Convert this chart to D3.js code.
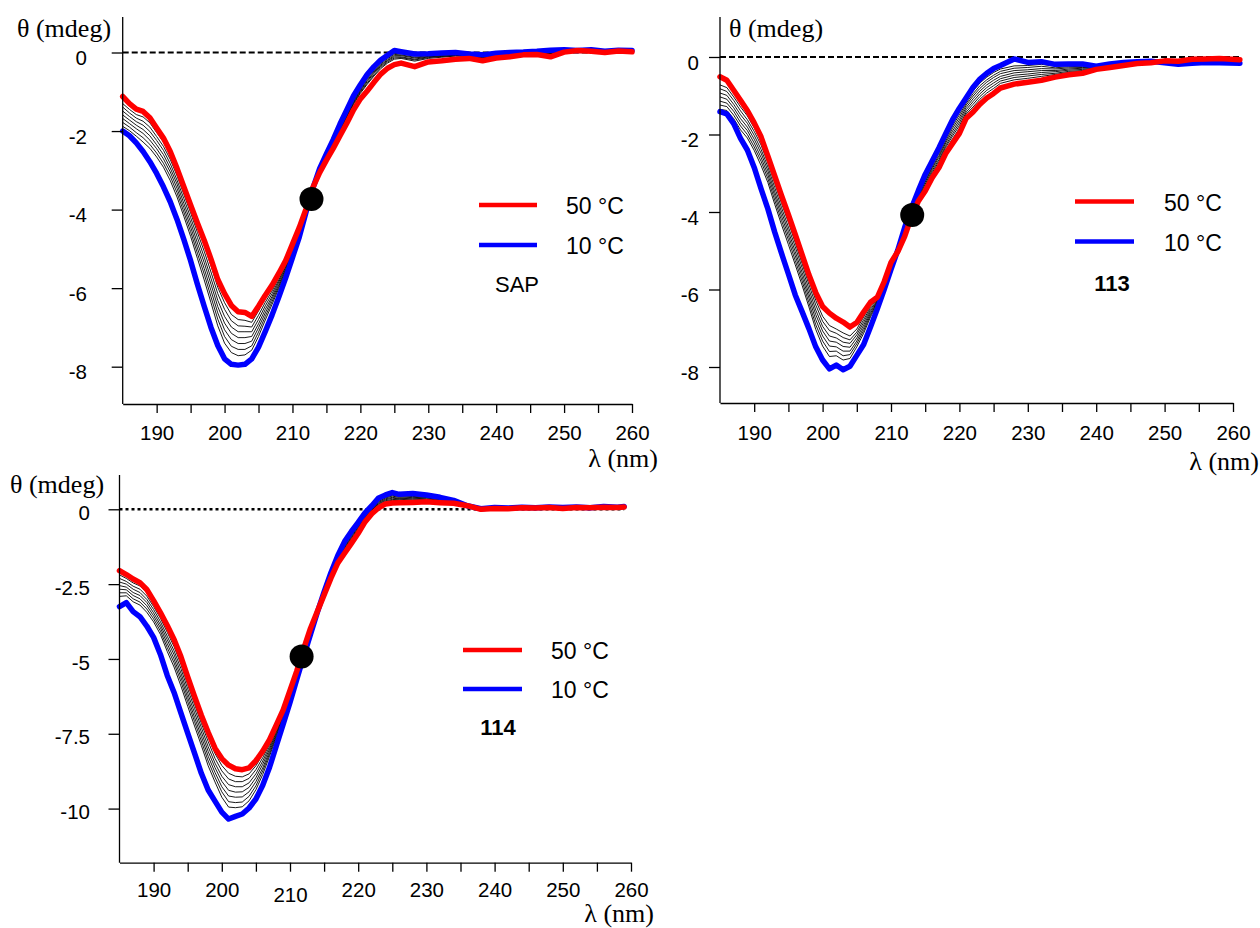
<!DOCTYPE html>
<html>
<head>
<meta charset="utf-8">
<script src="https://cdn.jsdelivr.net/npm/d3@7"></script>
<style>
  html, body { margin: 0; padding: 0; background: #fff; }
  svg { display: block; }
</style>
</head>
<body>
<svg id="chart" width="1260" height="928"></svg>
<script>
// ---------- wavelength grids (nm) ----------
const wlSAP = [185,186,187,188,189,190,191,192,193,194,195,196,197,198,199,200,201,202,203,204,205,206,207,208,209,210,211,212,213,214,215,216,217,218,219,220,221,222,223,224,225,226,228,230,232,234,236,238,240,242,244,246,248,250,252,254,256,258,260];
const wl113 = [185,186,187,188,189,190,191,192,193,194,195,196,197,198,199,200,201,202,203,204,205,206,207,208,209,210,211,212,213,214,215,216,217,218,219,220,221,222,223,224,225,226,228,230,232,234,236,238,240,242,244,246,248,250,252,254,256,258,261];
const wl114 = [185,186,187,188,189,190,191,192,193,194,195,196,197,198,199,200,201,202,203,204,205,206,207,208,209,210,211,212,213,214,215,216,217,218,219,220,221,222,223,224,225,226,228,230,232,234,236,238,240,242,244,246,248,250,252,254,256,258,259];

// ---------- tick labels ----------
const xTicks = [190,200,210,220,230,240,250,260];
const xMinorTicks = [195,205,215,225,235,245,255];
const yTicksSAP = [0,-2,-4,-6,-8];
const yTicks113 = [0,-2,-4,-6,-8];
const yTicks114 = [0,-2.5,-5,-7.5,-10];
const legendTemps = ["50 °C", "10 °C"];

// ---------- SAP: ellipticity θ (mdeg), 50 °C down to 10 °C ----------
const sap50 = [-1.12,-1.30,-1.44,-1.50,-1.66,-1.92,-2.18,-2.52,-2.95,-3.42,-3.88,-4.34,-4.78,-5.26,-5.78,-6.14,-6.44,-6.60,-6.62,-6.72,-6.46,-6.18,-5.92,-5.62,-5.30,-4.88,-4.46,-3.98,-3.44,-3.06,-2.74,-2.44,-2.12,-1.80,-1.46,-1.18,-0.98,-0.76,-0.55,-0.40,-0.31,-0.27,-0.36,-0.24,-0.21,-0.17,-0.15,-0.21,-0.14,-0.11,-0.06,-0.05,-0.11,0.01,0.05,0.03,0.00,0.04,0.02];
const sap45 = [-1.30,-1.45,-1.58,-1.64,-1.79,-2.04,-2.28,-2.61,-3.03,-3.50,-3.97,-4.45,-4.91,-5.43,-5.98,-6.37,-6.67,-6.80,-6.82,-6.87,-6.58,-6.27,-6.00,-5.68,-5.34,-4.92,-4.50,-4.00,-3.44,-3.04,-2.69,-2.35,-2.00,-1.66,-1.32,-1.04,-0.81,-0.60,-0.41,-0.27,-0.17,-0.15,-0.22,-0.15,-0.12,-0.09,-0.10,-0.14,-0.09,-0.06,-0.03,-0.01,-0.03,0.04,0.05,0.05,0.01,0.05,0.03];
const sap40 = [-1.39,-1.54,-1.67,-1.75,-1.90,-2.14,-2.39,-2.72,-3.14,-3.61,-4.08,-4.58,-5.06,-5.59,-6.14,-6.54,-6.83,-6.96,-6.97,-6.99,-6.69,-6.36,-6.07,-5.73,-5.38,-4.95,-4.51,-4.01,-3.45,-3.03,-2.68,-2.33,-1.97,-1.64,-1.29,-1.01,-0.78,-0.57,-0.38,-0.24,-0.14,-0.13,-0.19,-0.13,-0.10,-0.08,-0.09,-0.13,-0.08,-0.05,-0.02,-0.01,-0.02,0.04,0.06,0.05,0.02,0.05,0.04];
const sap35 = [-1.49,-1.63,-1.76,-1.85,-2.01,-2.24,-2.49,-2.83,-3.25,-3.72,-4.20,-4.71,-5.21,-5.75,-6.31,-6.72,-6.99,-7.11,-7.11,-7.11,-6.80,-6.45,-6.14,-5.79,-5.42,-4.98,-4.53,-4.02,-3.45,-3.02,-2.66,-2.32,-1.95,-1.61,-1.26,-0.98,-0.74,-0.53,-0.35,-0.21,-0.11,-0.11,-0.17,-0.11,-0.09,-0.07,-0.08,-0.12,-0.07,-0.04,-0.02,0.00,-0.01,0.05,0.04,0.05,0.02,0.05,0.04];
const sap30 = [-1.59,-1.72,-1.85,-1.96,-2.12,-2.35,-2.60,-2.94,-3.35,-3.84,-4.32,-4.85,-5.35,-5.90,-6.47,-6.89,-7.15,-7.26,-7.26,-7.23,-6.91,-6.54,-6.21,-5.84,-5.46,-5.01,-4.55,-4.02,-3.45,-3.01,-2.65,-2.30,-1.93,-1.58,-1.23,-0.95,-0.71,-0.50,-0.32,-0.19,-0.08,-0.08,-0.14,-0.10,-0.07,-0.05,-0.07,-0.11,-0.06,-0.03,-0.01,0.00,0.01,0.05,0.05,0.06,0.02,0.05,0.04];
const sap25 = [-1.68,-1.81,-1.94,-2.06,-2.23,-2.45,-2.71,-3.04,-3.46,-3.95,-4.44,-4.98,-5.50,-6.06,-6.63,-7.06,-7.31,-7.41,-7.41,-7.35,-7.01,-6.63,-6.27,-5.90,-5.50,-5.04,-4.57,-4.03,-3.45,-3.00,-2.63,-2.28,-1.90,-1.55,-1.20,-0.92,-0.67,-0.47,-0.29,-0.16,-0.05,-0.06,-0.12,-0.08,-0.06,-0.04,-0.07,-0.10,-0.05,-0.03,-0.01,0.01,0.02,0.06,0.06,0.06,0.02,0.06,0.04];
const sap20 = [-1.78,-1.90,-2.04,-2.17,-2.34,-2.56,-2.82,-3.15,-3.57,-4.06,-4.56,-5.11,-5.64,-6.22,-6.79,-7.23,-7.48,-7.56,-7.56,-7.47,-7.12,-6.72,-6.34,-5.95,-5.54,-5.07,-4.59,-4.04,-3.46,-2.99,-2.61,-2.26,-1.87,-1.52,-1.17,-0.89,-0.64,-0.43,-0.26,-0.13,-0.02,-0.03,-0.09,-0.06,-0.04,-0.03,-0.06,-0.08,-0.04,-0.02,0.00,0.02,0.03,0.06,0.05,0.06,0.03,0.06,0.05];
const sap15 = [-1.88,-1.99,-2.13,-2.28,-2.44,-2.66,-2.92,-3.26,-3.68,-4.17,-4.68,-5.24,-5.79,-6.37,-6.96,-7.40,-7.64,-7.72,-7.70,-7.58,-7.23,-6.81,-6.41,-6.00,-5.58,-5.10,-4.63,-4.04,-3.46,-2.98,-2.60,-2.24,-1.85,-1.49,-1.14,-0.86,-0.60,-0.40,-0.23,-0.10,0.01,-0.01,-0.07,-0.05,-0.03,-0.01,-0.05,-0.07,-0.03,-0.01,0.00,0.02,0.05,0.07,0.05,0.07,0.03,0.06,0.05];
const sap10 = [-2.00,-2.12,-2.30,-2.52,-2.78,-3.08,-3.42,-3.80,-4.25,-4.76,-5.30,-5.90,-6.46,-7.00,-7.46,-7.80,-7.94,-7.96,-7.94,-7.80,-7.50,-7.10,-6.68,-6.22,-5.74,-5.22,-4.70,-4.06,-3.46,-2.96,-2.58,-2.22,-1.82,-1.46,-1.10,-0.82,-0.56,-0.36,-0.19,-0.07,0.05,0.02,-0.04,-0.03,-0.01,0.00,-0.04,-0.06,-0.02,0.00,0.01,0.03,0.06,0.07,0.05,0.07,0.03,0.06,0.05];

// ---------- 113 ----------
const p113_50 = [-0.51,-0.60,-0.86,-1.12,-1.38,-1.70,-2.06,-2.56,-3.07,-3.58,-4.07,-4.58,-5.10,-5.62,-6.08,-6.44,-6.61,-6.74,-6.84,-6.97,-6.85,-6.58,-6.33,-6.20,-5.80,-5.30,-5.02,-4.63,-4.12,-3.72,-3.46,-3.12,-2.86,-2.49,-2.23,-1.97,-1.58,-1.42,-1.22,-1.06,-0.94,-0.80,-0.70,-0.65,-0.60,-0.52,-0.46,-0.42,-0.32,-0.27,-0.22,-0.17,-0.15,-0.10,-0.11,-0.06,-0.05,-0.04,-0.07];
const p113_45 = [-0.72,-0.79,-1.03,-1.29,-1.52,-1.83,-2.17,-2.64,-3.16,-3.67,-4.16,-4.67,-5.22,-5.76,-6.28,-6.69,-6.93,-7.02,-7.12,-7.20,-7.02,-6.71,-6.41,-6.23,-5.82,-5.32,-5.01,-4.58,-4.08,-3.67,-3.37,-3.03,-2.76,-2.39,-2.11,-1.84,-1.47,-1.29,-1.09,-0.93,-0.81,-0.68,-0.59,-0.55,-0.50,-0.45,-0.40,-0.37,-0.30,-0.25,-0.20,-0.16,-0.14,-0.11,-0.13,-0.08,-0.07,-0.06,-0.09];
const p113_40 = [-0.82,-0.89,-1.12,-1.39,-1.62,-1.92,-2.27,-2.74,-3.26,-3.78,-4.27,-4.79,-5.33,-5.87,-6.40,-6.82,-7.06,-7.13,-7.24,-7.30,-7.10,-6.78,-6.46,-6.25,-5.84,-5.33,-5.01,-4.56,-4.05,-3.64,-3.33,-2.99,-2.70,-2.33,-2.04,-1.77,-1.42,-1.22,-1.02,-0.86,-0.74,-0.62,-0.53,-0.49,-0.45,-0.42,-0.37,-0.35,-0.29,-0.24,-0.19,-0.15,-0.14,-0.12,-0.13,-0.09,-0.08,-0.07,-0.10];
const p113_35 = [-0.93,-0.99,-1.22,-1.49,-1.71,-2.02,-2.38,-2.84,-3.37,-3.89,-4.39,-4.90,-5.44,-5.99,-6.53,-6.95,-7.20,-7.25,-7.36,-7.39,-7.17,-6.85,-6.51,-6.28,-5.85,-5.35,-5.01,-4.54,-4.03,-3.61,-3.28,-2.94,-2.65,-2.28,-1.98,-1.70,-1.36,-1.15,-0.95,-0.79,-0.67,-0.56,-0.47,-0.44,-0.40,-0.38,-0.34,-0.32,-0.29,-0.23,-0.18,-0.15,-0.13,-0.12,-0.14,-0.10,-0.09,-0.09,-0.11];
const p113_30 = [-1.03,-1.09,-1.31,-1.59,-1.81,-2.12,-2.48,-2.94,-3.48,-4.00,-4.50,-5.02,-5.56,-6.11,-6.65,-7.07,-7.33,-7.36,-7.47,-7.49,-7.25,-6.92,-6.56,-6.30,-5.87,-5.36,-5.00,-4.52,-4.01,-3.59,-3.23,-2.89,-2.59,-2.22,-1.91,-1.63,-1.30,-1.08,-0.88,-0.72,-0.60,-0.50,-0.41,-0.38,-0.35,-0.35,-0.31,-0.29,-0.28,-0.22,-0.18,-0.14,-0.13,-0.13,-0.15,-0.11,-0.10,-0.10,-0.12];
const p113_25 = [-1.14,-1.19,-1.40,-1.69,-1.90,-2.22,-2.59,-3.04,-3.58,-4.11,-4.61,-5.13,-5.67,-6.22,-6.78,-7.20,-7.46,-7.48,-7.59,-7.59,-7.33,-6.99,-6.61,-6.32,-5.88,-5.37,-5.00,-4.49,-3.99,-3.56,-3.19,-2.85,-2.54,-2.17,-1.84,-1.56,-1.24,-1.01,-0.81,-0.65,-0.53,-0.43,-0.35,-0.33,-0.30,-0.31,-0.28,-0.27,-0.27,-0.21,-0.17,-0.14,-0.12,-0.13,-0.16,-0.12,-0.11,-0.11,-0.13];
const p113_20 = [-1.24,-1.28,-1.50,-1.78,-2.00,-2.32,-2.69,-3.14,-3.69,-4.22,-4.72,-5.25,-5.78,-6.34,-6.91,-7.33,-7.60,-7.59,-7.71,-7.68,-7.40,-7.06,-6.66,-6.34,-5.90,-5.39,-5.00,-4.47,-3.97,-3.53,-3.14,-2.80,-2.48,-2.11,-1.78,-1.49,-1.19,-0.95,-0.74,-0.59,-0.47,-0.37,-0.29,-0.27,-0.24,-0.28,-0.25,-0.24,-0.26,-0.20,-0.16,-0.13,-0.12,-0.14,-0.17,-0.13,-0.12,-0.12,-0.14];
const p113_15 = [-1.35,-1.38,-1.59,-1.88,-2.09,-2.41,-2.80,-3.24,-3.80,-4.33,-4.84,-5.36,-5.89,-6.45,-7.03,-7.46,-7.73,-7.71,-7.82,-7.78,-7.48,-7.13,-6.71,-6.37,-5.91,-5.40,-5.00,-4.45,-3.94,-3.50,-3.09,-2.75,-2.43,-2.06,-1.71,-1.42,-1.13,-0.88,-0.67,-0.52,-0.40,-0.31,-0.23,-0.22,-0.19,-0.24,-0.22,-0.22,-0.25,-0.19,-0.15,-0.13,-0.12,-0.14,-0.18,-0.14,-0.13,-0.13,-0.15];
const p113_10 = [-1.41,-1.47,-1.72,-2.10,-2.40,-2.85,-3.40,-3.92,-4.52,-5.07,-5.60,-6.14,-6.57,-7.01,-7.48,-7.82,-8.05,-7.95,-8.07,-7.98,-7.70,-7.42,-6.97,-6.50,-6.00,-5.48,-4.98,-4.40,-3.90,-3.45,-3.03,-2.69,-2.35,-1.98,-1.62,-1.32,-1.05,-0.78,-0.57,-0.42,-0.30,-0.22,-0.05,-0.14,-0.12,-0.19,-0.18,-0.18,-0.24,-0.18,-0.14,-0.12,-0.11,-0.15,-0.19,-0.16,-0.14,-0.15,-0.16];

// ---------- 114 ----------
const p114_50 = [-2.05,-2.18,-2.33,-2.45,-2.68,-3.05,-3.45,-3.88,-4.35,-4.92,-5.60,-6.25,-6.88,-7.45,-7.98,-8.33,-8.55,-8.67,-8.70,-8.64,-8.40,-8.08,-7.70,-7.20,-6.70,-6.05,-5.40,-4.66,-3.98,-3.42,-2.86,-2.30,-1.80,-1.47,-1.14,-0.80,-0.42,-0.15,0.05,0.18,0.21,0.22,0.23,0.25,0.22,0.20,0.12,0.00,0.03,0.02,0.05,0.04,0.06,0.03,0.06,0.05,0.07,0.06,0.08];
const p114_45 = [-2.19,-2.31,-2.46,-2.56,-2.79,-3.15,-3.53,-3.98,-4.46,-5.03,-5.71,-6.36,-7.00,-7.60,-8.16,-8.56,-8.82,-8.92,-8.94,-8.84,-8.57,-8.19,-7.77,-7.26,-6.74,-6.08,-5.42,-4.71,-4.02,-3.43,-2.84,-2.26,-1.74,-1.37,-1.04,-0.71,-0.35,-0.08,0.13,0.26,0.30,0.29,0.31,0.31,0.27,0.23,0.12,0.01,0.04,0.03,0.06,0.04,0.07,0.04,0.07,0.05,0.08,0.06,0.08];
const p114_40 = [-2.31,-2.41,-2.57,-2.67,-2.90,-3.25,-3.64,-4.11,-4.59,-5.18,-5.86,-6.51,-7.15,-7.76,-8.32,-8.74,-9.01,-9.10,-9.10,-8.99,-8.70,-8.30,-7.85,-7.32,-6.78,-6.12,-5.45,-4.74,-4.04,-3.43,-2.83,-2.24,-1.71,-1.33,-1.00,-0.67,-0.32,-0.06,0.17,0.29,0.33,0.32,0.34,0.33,0.28,0.24,0.13,0.01,0.04,0.03,0.06,0.04,0.07,0.04,0.07,0.06,0.08,0.06,0.08];
const p114_35 = [-2.43,-2.50,-2.67,-2.78,-3.01,-3.35,-3.75,-4.24,-4.73,-5.32,-6.00,-6.65,-7.29,-7.93,-8.48,-8.92,-9.20,-9.27,-9.27,-9.14,-8.84,-8.41,-7.93,-7.38,-6.82,-6.15,-5.47,-4.76,-4.06,-3.43,-2.82,-2.22,-1.69,-1.29,-0.96,-0.64,-0.29,-0.03,0.20,0.32,0.37,0.35,0.37,0.35,0.30,0.25,0.12,0.01,0.04,0.03,0.06,0.05,0.07,0.04,0.07,0.05,0.08,0.07,0.08];
const p114_30 = [-2.55,-2.60,-2.78,-2.88,-3.11,-3.46,-3.86,-4.36,-4.86,-5.47,-6.15,-6.80,-7.44,-8.09,-8.63,-9.09,-9.39,-9.45,-9.44,-9.29,-8.97,-8.52,-8.01,-7.44,-6.86,-6.19,-5.50,-4.79,-4.08,-3.44,-2.81,-2.20,-1.66,-1.26,-0.92,-0.60,-0.26,0.00,0.23,0.35,0.40,0.37,0.40,0.38,0.32,0.26,0.13,0.01,0.05,0.03,0.06,0.05,0.07,0.05,0.07,0.05,0.08,0.07,0.09];
const p114_25 = [-2.67,-2.69,-2.88,-2.99,-3.22,-3.56,-3.96,-4.49,-5.00,-5.61,-6.29,-6.95,-7.59,-8.25,-8.79,-9.27,-9.58,-9.62,-9.61,-9.44,-9.10,-8.64,-8.09,-7.50,-6.90,-6.22,-5.52,-4.82,-4.10,-3.44,-2.80,-2.18,-1.64,-1.22,-0.88,-0.57,-0.23,0.03,0.26,0.38,0.44,0.40,0.43,0.40,0.34,0.27,0.12,0.01,0.05,0.03,0.06,0.05,0.07,0.05,0.07,0.06,0.08,0.07,0.09];
const p114_20 = [-2.79,-2.79,-2.99,-3.10,-3.33,-3.66,-4.07,-4.62,-5.13,-5.75,-6.43,-7.09,-7.74,-8.41,-8.95,-9.44,-9.77,-9.80,-9.78,-9.59,-9.24,-8.74,-8.17,-7.56,-6.95,-6.26,-5.54,-4.84,-4.12,-3.44,-2.79,-2.17,-1.61,-1.18,-0.84,-0.53,-0.20,0.05,0.30,0.41,0.47,0.43,0.46,0.42,0.36,0.28,0.13,0.02,0.05,0.04,0.07,0.05,0.08,0.05,0.08,0.05,0.09,0.07,0.09];
const p114_15 = [-2.91,-2.89,-3.09,-3.20,-3.44,-3.76,-4.18,-4.75,-5.27,-5.90,-6.58,-7.24,-7.89,-8.57,-9.11,-9.62,-9.95,-9.97,-9.94,-9.74,-9.37,-8.86,-8.25,-7.62,-6.99,-6.29,-5.57,-4.87,-4.14,-3.44,-2.78,-2.15,-1.59,-1.14,-0.80,-0.49,-0.17,0.08,0.33,0.44,0.51,0.46,0.49,0.45,0.37,0.29,0.12,0.02,0.06,0.04,0.07,0.05,0.08,0.06,0.08,0.05,0.09,0.07,0.09];
const p114_10 = [-3.25,-3.12,-3.42,-3.59,-3.90,-4.28,-4.85,-5.55,-6.12,-6.80,-7.48,-8.15,-8.82,-9.38,-9.75,-10.12,-10.35,-10.26,-10.18,-9.98,-9.68,-9.22,-8.62,-7.90,-7.18,-6.45,-5.68,-4.92,-4.18,-3.45,-2.76,-2.12,-1.55,-1.08,-0.74,-0.44,-0.12,0.12,0.38,0.48,0.56,0.50,0.53,0.48,0.40,0.30,0.12,0.02,0.06,0.04,0.07,0.05,0.08,0.06,0.08,0.05,0.09,0.07,0.09];

// ---------- isosbestic points [λ, θ] ----------
const isoSAP = [212.8, -3.73];
const iso113 = [213.1, -4.08];
const iso114 = [211.7, -4.92];

// ---------- layout & styling ----------
const SANS = '"Liberation Sans", Arial, Helvetica, sans-serif';
const SERIF = '"Liberation Serif", "Times New Roman", Times, serif';
const RED = "#ff0000", BLUE = "#0000ff";

const panels = [
  {
    name: "SAP", nameBold: false,
    wl: wlSAP, hot: sap50, cold: sap10,
    mids: [sap45, sap40, sap35, sap30, sap25, sap20, sap15],
    iso: isoSAP, yTicks: yTicksSAP,
    xRange: [122.7, 632], yTop: 17, yBottom: 404, yDomain: [0.904, -8.95],
    zeroDash: "6,3", zeroWidth: 2,
    yLabelRight: 87, yLabelShift: 5,
    xLabelY: 433,
    legend: { x0: 479, x1: 537, yHot: 205, yCold: 245, textX: 566, nameX: 517, nameY: 284 },
    thetaX: 17, thetaY: 28, lambdaRight: 658, lambdaY: 458
  },
  {
    name: "113", nameBold: true,
    wl: wl113, hot: p113_50, cold: p113_10,
    mids: [p113_45, p113_40, p113_35, p113_30, p113_25, p113_20, p113_15],
    iso: iso113, yTicks: yTicks113,
    xRange: [720, 1233], yTop: 17, yBottom: 403, yDomain: [1.032, -8.929],
    zeroDash: "6,3", zeroWidth: 2,
    yLabelRight: 699, yLabelShift: 5,
    xLabelY: 433,
    legend: { x0: 1075, x1: 1134, yHot: 201.5, yCold: 241.5, textX: 1164, nameX: 1112, nameY: 283 },
    thetaX: 729, thetaY: 28, lambdaRight: 1259, lambdaY: 461
  },
  {
    name: "114", nameBold: true,
    wl: wl114, hot: p114_50, cold: p114_10,
    mids: [p114_45, p114_40, p114_35, p114_30, p114_25, p114_20, p114_15],
    iso: iso114, yTicks: yTicks114,
    xRange: [119.5, 631], yTop: 475, yBottom: 862.7, yDomain: [1.146, -11.808],
    zeroDash: "3,3", zeroWidth: 2.6,
    yLabelRight: 90, yLabelShift: 3,
    xLabelY: 890, xLabelNudge: { 210: 5 },
    legend: { x0: 463, x1: 522, yHot: 650, yCold: 689, textX: 551, nameX: 498, nameY: 727 },
    thetaX: 10, thetaY: 484, lambdaRight: 654, lambdaY: 913
  }
];

const svg = d3.select("#chart");

panels.forEach(p => {
  const x = d3.scaleLinear().domain([185, 260]).range(p.xRange);
  const y = d3.scaleLinear().domain(p.yDomain).range([p.yTop, p.yBottom]);
  const g = svg.append("g").attr("class", "panel-" + p.name);

  const line = d3.line().x(d => x(d[0])).y(d => y(d[1])).curve(d3.curveLinear);
  const pts = s => p.wl.map((w, i) => [w, s[i]]).filter(d => d[1] !== undefined);

  // y = 0 reference line across the measured range
  const wlMax = p.wl[p.wl.length - 1];
  g.append("line")
    .attr("x1", x(185)).attr("x2", x(wlMax))
    .attr("y1", y(0)).attr("y2", y(0))
    .attr("stroke", "#000").attr("stroke-width", p.zeroWidth)
    .attr("stroke-dasharray", p.zeroDash);

  // intermediate temperatures (thin black)
  p.mids.forEach(s => {
    g.append("path").datum(pts(s))
      .attr("d", line).attr("fill", "none")
      .attr("stroke", "#000").attr("stroke-width", 0.9)
      .attr("stroke-linejoin", "round");
  });

  // 10 °C and 50 °C spectra
  g.append("path").datum(pts(p.cold))
    .attr("d", line).attr("fill", "none")
    .attr("stroke", BLUE).attr("stroke-width", 5.5)
    .attr("stroke-linejoin", "round").attr("stroke-linecap", "round");
  g.append("path").datum(pts(p.hot))
    .attr("d", line).attr("fill", "none")
    .attr("stroke", RED).attr("stroke-width", 5.5)
    .attr("stroke-linejoin", "round").attr("stroke-linecap", "round");

  // isosbestic point
  g.append("circle")
    .attr("cx", x(p.iso[0])).attr("cy", y(p.iso[1])).attr("r", 12)
    .attr("fill", "#000");

  // x axis: labelled major ticks + unlabelled minor ticks
  const xAxisG = g.append("g")
    .attr("transform", `translate(0,${p.yBottom})`)
    .call(d3.axisBottom(x).tickValues(xTicks).tickSize(9).tickSizeOuter(0).tickFormat(d => String(d)));
  g.append("g")
    .attr("transform", `translate(0,${p.yBottom})`)
    .call(d3.axisBottom(x).tickValues(xMinorTicks).tickSize(9).tickSizeOuter(0).tickFormat(""))
    .call(a => a.select(".domain").remove());

  xAxisG.selectAll("text")
    .attr("y", d => p.xLabelY - p.yBottom + ((p.xLabelNudge && p.xLabelNudge[d]) || 0))
    .attr("dy", "0.35em")
    .attr("fill", "#000")
    .style("font-family", SANS).style("font-size", "20.5px");

  // y axis
  const yAxisG = g.append("g")
    .attr("transform", `translate(${p.xRange[0]},0)`)
    .call(d3.axisLeft(y).tickValues(p.yTicks).tickSize(11).tickSizeOuter(0).tickFormat(d => String(d)));
  yAxisG.selectAll("text")
    .attr("x", p.yLabelRight - p.xRange[0])
    .attr("y", p.yLabelShift)
    .attr("dy", "0.35em")
    .attr("text-anchor", "end")
    .attr("fill", "#000")
    .style("font-family", SANS).style("font-size", "20.5px");

  // y axis line runs up to the top of the panel
  yAxisG.select(".domain").attr("d", `M0,${p.yTop}V${p.yBottom}`);

  [xAxisG, yAxisG].forEach(a => {
    a.selectAll(".domain").attr("stroke", "#000").attr("stroke-width", 1.3);
  });
  g.selectAll(".tick line").attr("stroke", "#000").attr("stroke-width", 1.3);

  // axis titles
  g.append("text")
    .attr("x", p.thetaX).attr("y", p.thetaY).attr("dy", "0.35em")
    .style("font-family", SERIF).style("font-size", "26px")
    .attr("fill", "#000").text("θ (mdeg)");
  g.append("text")
    .attr("x", p.lambdaRight).attr("y", p.lambdaY).attr("dy", "0.35em")
    .attr("text-anchor", "end")
    .style("font-family", SERIF).style("font-size", "26px")
    .attr("fill", "#000").text("λ (nm)");

  // legend
  const L = p.legend;
  [[RED, L.yHot, legendTemps[0]], [BLUE, L.yCold, legendTemps[1]]].forEach(([c, ly, t]) => {
    g.append("line")
      .attr("x1", L.x0).attr("x2", L.x1).attr("y1", ly).attr("y2", ly)
      .attr("stroke", c).attr("stroke-width", 4.5);
    g.append("text")
      .attr("x", L.textX).attr("y", ly + 1).attr("dy", "0.35em")
      .style("font-family", SANS).style("font-size", "23px")
      .attr("fill", "#000").text(t);
  });
  g.append("text")
    .attr("x", L.nameX).attr("y", L.nameY).attr("dy", "0.35em")
    .attr("text-anchor", "middle")
    .style("font-family", SANS).style("font-size", "22px")
    .style("font-weight", p.nameBold ? "bold" : "normal")
    .attr("fill", "#000").text(p.name);
});
</script>
</body>
</html>
